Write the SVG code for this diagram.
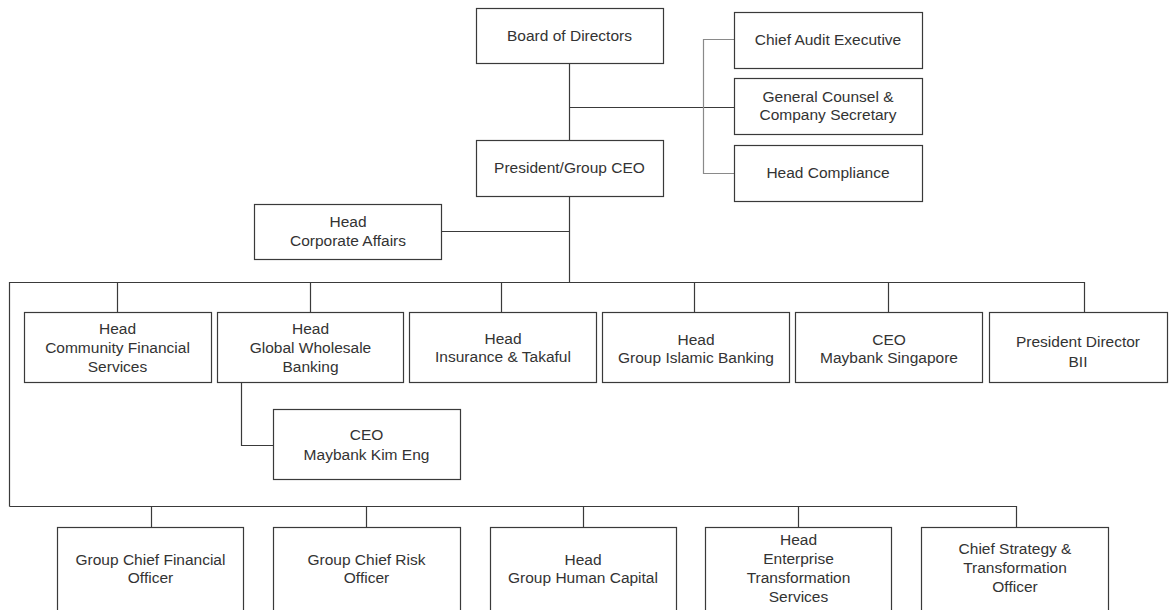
<svg xmlns="http://www.w3.org/2000/svg" width="1171" height="610" viewBox="0 0 1171 610">
<style>
.box{fill:#fff;stroke:#3a3a3a;stroke-width:1.2}
.ln{fill:none;stroke:#3a3a3a;stroke-width:1.2}
.gl{fill:none;stroke:#8a8a8a;stroke-width:1.2}
text{font-family:"Liberation Sans",Arial,sans-serif;font-size:15.5px;fill:#333;text-anchor:middle}
</style>
<rect width="1171" height="610" fill="#fff"/>
<g id="connectors">
<path class="ln" d="M569.5 63 V140.5 M569.5 196.5 V282.5 M569.5 107.5 H734.5 M441.5 231.5 H569.5"/>
<path class="gl" d="M734.5 39.5 H703.5 V173.5 H734.5"/>
<path class="ln" d="M9.5 506.5 V282.5 H1084.5 V312.5 M117.5 282.5 V312.5 M310.5 282.5 V312.5 M501.5 282.5 V312.5 M694.5 282.5 V312.5 M888.5 282.5 V312.5"/>
<path class="ln" d="M241.5 382.5 V445.5 H273.5"/>
<path class="ln" d="M9.5 506.5 H1016.5 V527.5 M151.5 506.5 V527.5 M366.5 506.5 V527.5 M583.5 506.5 V527.5 M798.5 506.5 V527.5"/>
</g>
<g id="board"><rect class="box" x="476.5" y="8.5" width="187" height="55"/><text x="569.5" y="40.5">Board of Directors</text></g>
<g id="audit"><rect class="box" x="734.5" y="12.5" width="188" height="56"/><text x="828" y="45">Chief Audit Executive</text></g>
<g id="counsel"><rect class="box" x="734.5" y="78.5" width="188" height="56"/><text x="828" y="102">General Counsel &amp;</text><text x="828" y="120">Company Secretary</text></g>
<g id="compliance"><rect class="box" x="734.5" y="145.5" width="188" height="56"/><text x="828" y="178">Head Compliance</text></g>
<g id="ceo"><rect class="box" x="476.5" y="140.5" width="187" height="56"/><text x="569.5" y="172.5">President/Group CEO</text></g>
<g id="corporate"><rect class="box" x="254.5" y="204.5" width="187" height="55"/><text x="348" y="227">Head</text><text x="348" y="246">Corporate Affairs</text></g>
<g id="community"><rect class="box" x="24.5" y="312.5" width="187" height="70"/><text x="117.5" y="334">Head</text><text x="117.5" y="353">Community Financial</text><text x="117.5" y="372">Services</text></g>
<g id="wholesale"><rect class="box" x="217.5" y="312.5" width="186" height="70"/><text x="310.5" y="334">Head</text><text x="310.5" y="353">Global Wholesale</text><text x="310.5" y="372">Banking</text></g>
<g id="insurance"><rect class="box" x="409.5" y="312.5" width="187" height="70"/><text x="503" y="344">Head</text><text x="503" y="362">Insurance &amp; Takaful</text></g>
<g id="islamic"><rect class="box" x="602.5" y="312.5" width="187" height="70"/><text x="696" y="345">Head</text><text x="696" y="363">Group Islamic Banking</text></g>
<g id="singapore"><rect class="box" x="795.5" y="312.5" width="187" height="70"/><text x="889" y="345">CEO</text><text x="889" y="363">Maybank Singapore</text></g>
<g id="bii"><rect class="box" x="989.5" y="312.5" width="178" height="70"/><text x="1078" y="347">President Director</text><text x="1078" y="366.5">BII</text></g>
<g id="kimeng"><rect class="box" x="273.5" y="409.5" width="187" height="70"/><text x="366.5" y="440">CEO</text><text x="366.5" y="460">Maybank Kim Eng</text></g>
<g id="cfo"><rect class="box" x="57.5" y="527.5" width="186" height="100"/><text x="150.5" y="565">Group Chief Financial</text><text x="150.5" y="583">Officer</text></g>
<g id="risk"><rect class="box" x="273.5" y="527.5" width="187" height="100"/><text x="366.5" y="565">Group Chief Risk</text><text x="366.5" y="583">Officer</text></g>
<g id="hr"><rect class="box" x="490.5" y="527.5" width="186" height="100"/><text x="583" y="565">Head</text><text x="583" y="583">Group Human Capital</text></g>
<g id="enterprise"><rect class="box" x="705.5" y="527.5" width="186" height="100"/><text x="798.5" y="545">Head</text><text x="798.5" y="564">Enterprise</text><text x="798.5" y="583">Transformation</text><text x="798.5" y="602">Services</text></g>
<g id="strategy"><rect class="box" x="921.5" y="527.5" width="187" height="100"/><text x="1015" y="554">Chief Strategy &amp;</text><text x="1015" y="573">Transformation</text><text x="1015" y="592">Officer</text></g>
</svg>
